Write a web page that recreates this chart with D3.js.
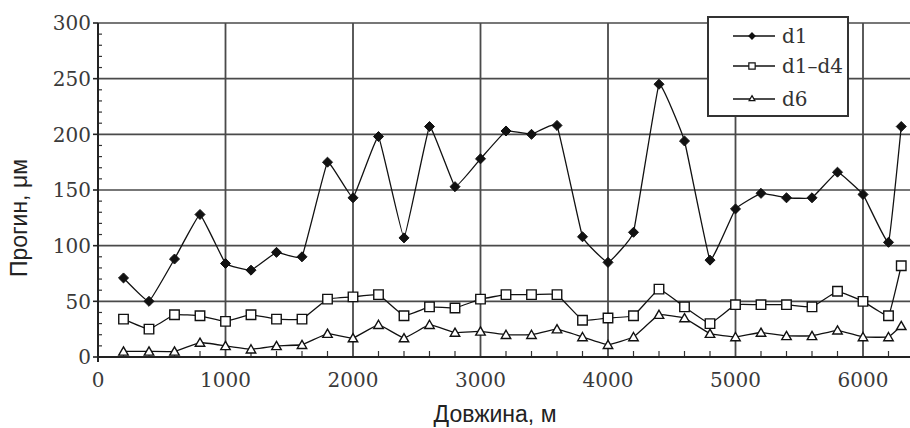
<!DOCTYPE html>
<html>
<head>
<meta charset="utf-8">
<script src="https://cdn.jsdelivr.net/npm/d3@7"></script>
<style>
  html, body { margin: 0; padding: 0; background: #fff; }
  svg { display: block; }
</style>
</head>
<body>
<svg id="chart" width="910" height="428"></svg>
<script>
// ---- data ----
const distances = [200, 400, 600, 800, 1000, 1200, 1400, 1600, 1800, 2000, 2200, 2400, 2600, 2800, 3000, 3200,
                   3400, 3600, 3800, 4000, 4200, 4400, 4600, 4800, 5000, 5200, 5400, 5600, 5800, 6000, 6200, 6300];
const d1 = [71, 50, 88, 128, 84, 78, 94, 90, 175, 143, 198, 107, 207, 153, 178, 203,
            200, 208, 108, 85, 112, 245, 194, 87, 133, 147, 143, 143, 166, 146, 103, 207];
const d1d4 = [34, 25, 38, 37, 32, 38, 34, 34, 52, 54, 56, 37, 45, 44, 52, 56,
              56, 56, 33, 35, 37, 61, 45, 30, 47, 47, 47, 45, 59, 50, 37, 82];
const d6 = [5, 5, 5, 13, 10, 7, 10, 11, 21, 17, 29, 17, 29, 22, 23, 20,
            20, 25, 18, 11, 18, 38, 35, 21, 18, 22, 19, 19, 24, 18, 18, 28];
const seriesNames = ["d1", "d1\u2013d4", "d6"];
const xTicks = [0, 1000, 2000, 3000, 4000, 5000, 6000];
const yTicks = [0, 50, 100, 150, 200, 250, 300];
const xTitle = "Довжина, м";
const yTitle = "Прогин, μм";

// ---- layout ----
const svg = d3.select("#chart");
const x = d3.scaleLinear().domain([0, 6400]).range([98, 914]);
const y = d3.scaleLinear().domain([0, 300]).range([357, 23]);
const gridColor = "#4a4a4a";
const serif = "'DejaVu Serif', 'Liberation Serif', serif";
const sans = "'Liberation Sans', Arial, sans-serif";

// gridlines
svg.append("g").selectAll("line.h").data(yTicks.filter(d => d > 0)).join("line")
  .attr("x1", x(0)).attr("x2", 910).attr("y1", d => y(d)).attr("y2", d => y(d))
  .attr("stroke", gridColor).attr("stroke-width", 1.6);
svg.append("g").selectAll("line.v").data(xTicks.filter(d => d > 0)).join("line")
  .attr("x1", d => x(d)).attr("x2", d => x(d)).attr("y1", y(300)).attr("y2", y(0))
  .attr("stroke", gridColor).attr("stroke-width", 1.8);

// minor ticks
const yMinor = d3.range(10, 300, 10).filter(v => v % 50 !== 0);
svg.append("g").selectAll("line").data(yMinor).join("line")
  .attr("x1", x(0)).attr("x2", x(0) + 4).attr("y1", d => y(d)).attr("y2", d => y(d))
  .attr("stroke", "#333").attr("stroke-width", 1.2);
const xMinor = d3.range(200, 6400, 200).filter(v => v % 1000 !== 0);
svg.append("g").selectAll("line").data(xMinor).join("line")
  .attr("x1", d => x(d)).attr("x2", d => x(d)).attr("y1", y(0)).attr("y2", y(0) - 6)
  .attr("stroke", "#333").attr("stroke-width", 1.2);

// axes lines
svg.append("line").attr("x1", x(0)).attr("x2", 910).attr("y1", y(0)).attr("y2", y(0))
  .attr("stroke", "#222").attr("stroke-width", 2);
svg.append("line").attr("x1", x(0)).attr("x2", x(0)).attr("y1", y(300)).attr("y2", y(0) + 5)
  .attr("stroke", "#222").attr("stroke-width", 2);
// major outward ticks on y
svg.append("g").selectAll("line").data(yTicks).join("line")
  .attr("x1", x(0) - 5).attr("x2", x(0)).attr("y1", d => y(d)).attr("y2", d => y(d))
  .attr("stroke", "#222").attr("stroke-width", 1.6);

// tick labels
svg.append("g").selectAll("text").data(yTicks).join("text")
  .attr("x", 91).attr("y", d => y(d)).attr("dy", "0.36em")
  .attr("text-anchor", "end").attr("font-family", serif).attr("font-size", 20)
  .attr("fill", "#3a3a3a").text(d => d);
svg.append("g").selectAll("text").data(xTicks).join("text")
  .attr("x", d => x(d)).attr("y", 387)
  .attr("text-anchor", "middle").attr("font-family", serif).attr("font-size", 20)
  .attr("fill", "#3a3a3a").text(d => d);

// titles
svg.append("text").attr("x", 495).attr("y", 422).attr("text-anchor", "middle")
  .attr("font-family", sans).attr("font-size", 23).attr("fill", "#222").text(xTitle);
svg.append("text").attr("transform", "translate(27," + 218 + ") rotate(-90)")
  .attr("text-anchor", "middle")
  .attr("font-family", sans).attr("font-size", 23).attr("fill", "#222").text(yTitle);

// series
const line = d3.line().x(d => x(d[0])).y(d => y(d[1])).curve(d3.curveCardinal.tension(0.75));
const series = [d1, d1d4, d6];
const plot = svg.append("g");
series.forEach(vals => {
  const pts = distances.map((dd, i) => [dd, vals[i]]);
  plot.append("path").attr("d", line(pts)).attr("fill", "none")
    .attr("stroke", "#111").attr("stroke-width", 1.3);
});
const diamond = d3.symbol().type(d3.symbolDiamond2).size(64);
const square = d3.symbol().type(d3.symbolSquare).size(90);
const triangle = d3.symbol().type(d3.symbolTriangle2).size(64);

plot.append("g").selectAll("path").data(distances.map((dd, i) => [dd, d1[i]])).join("path")
  .attr("transform", d => `translate(${x(d[0])},${y(d[1])})`)
  .attr("d", diamond).attr("fill", "#111").attr("stroke", "#111").attr("stroke-width", 1);
plot.append("g").selectAll("path").data(distances.map((dd, i) => [dd, d1d4[i]])).join("path")
  .attr("transform", d => `translate(${x(d[0])},${y(d[1])})`)
  .attr("d", square).attr("fill", "#fff").attr("stroke", "#111").attr("stroke-width", 1.4);
plot.append("g").selectAll("path").data(distances.map((dd, i) => [dd, d6[i]])).join("path")
  .attr("transform", d => `translate(${x(d[0])},${y(d[1]) + 1})`)
  .attr("d", triangle).attr("fill", "#fff").attr("stroke", "#111").attr("stroke-width", 1.4);

// legend
const lg = svg.append("g");
lg.append("rect").attr("x", 708).attr("y", 17).attr("width", 140).attr("height", 99)
  .attr("fill", "#fff").attr("stroke", "#333").attr("stroke-width", 2);
const legendRows = [36, 66, 99];
const legendSyms = [
  d3.symbol().type(d3.symbolDiamond2).size(24),
  d3.symbol().type(d3.symbolSquare).size(40),
  d3.symbol().type(d3.symbolTriangle2).size(24)
];
seriesNames.forEach((name, i) => {
  const yy = legendRows[i];
  lg.append("line").attr("x1", 733).attr("x2", 775).attr("y1", yy).attr("y2", yy)
    .attr("stroke", "#111").attr("stroke-width", 1.3);
  lg.append("path").attr("transform", `translate(752,${yy})`).attr("d", legendSyms[i])
    .attr("fill", i === 0 ? "#111" : "#fff").attr("stroke", "#111").attr("stroke-width", 1.2);
  lg.append("text").attr("x", 782).attr("y", yy).attr("dy", "0.36em")
    .attr("font-family", serif).attr("font-size", 20).attr("fill", "#333").text(name);
});
</script>
</body>
</html>
